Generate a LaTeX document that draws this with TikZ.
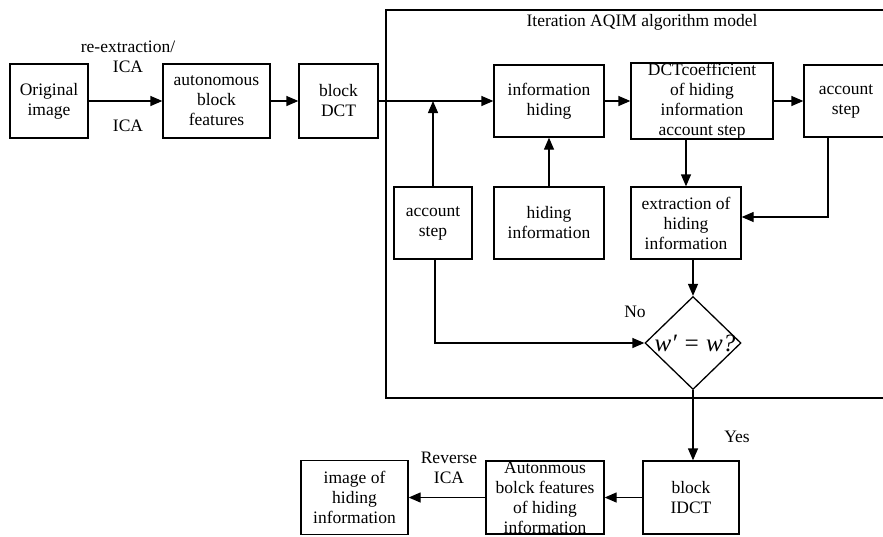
\documentclass[tikz,border=0pt]{standalone}
\usepackage{fontspec}
\setmainfont{Liberation Serif}
\usetikzlibrary{arrows.meta,shapes.geometric}
\begin{document}
\begin{tikzpicture}[x=1pt,y=-1pt,
  every node/.style={font=\fontsize{17.5}{20}\selectfont, align=center},
  box/.style={draw, line width=1.3pt, inner sep=0pt},
  arr/.style={line width=1.3pt, -{Triangle[length=12pt,width=10pt]}},
  ln/.style={line width=1.3pt},
  lbl/.style={inner sep=0pt}]
\clip (0,0) rectangle (883,536);
\useasboundingbox (0,0) rectangle (883,536);
% frame
\draw[ln] (890,10) -- (386,10) -- (386,398) -- (890,398);
\node[lbl] (title) at (642,22) {Iteration AQIM algorithm model};
% top row left
\node[box, minimum width=78pt, minimum height=74pt] (orig) at (49,101) {Original\\image};
\node[box, minimum width=107pt, minimum height=74pt] (auto) at (216.5,101) {autonomous\\block\\features};
\node[box, minimum width=79pt, minimum height=74pt] (bdct) at (338.5,101) {block\\DCT};
% inside frame
\node[box, minimum width=110pt, minimum height=72pt] (ih) at (549,101) {information\\hiding};
\node[box, minimum width=142pt, minimum height=72pt] (dctc) at (702,101) {DCTcoefficient\\of hiding\\information\\account step};
\node[box, minimum width=84pt, minimum height=72pt] (as2) at (846,101) {account\\step};
\node[box, minimum width=78pt, minimum height=72pt] (as1) at (433,223) {account\\step};
\node[box, minimum width=110pt, minimum height=72pt] (hi) at (549,223) {hiding\\information};
\node[box, minimum width=110pt, minimum height=72pt] (ext) at (686,223) {extraction of\\hiding\\information};
\node[draw, line width=1.3pt, diamond, minimum width=96pt, minimum height=93pt, inner sep=0pt] (dia) at (693,343) {};
\node[lbl, font=\fontsize{25}{27}\selectfont\itshape] (dt) at (695,343) {w′ = w?};
% bottom row
\node[box, minimum width=96pt, minimum height=73pt] (idct) at (691,497.5) {block\\IDCT};
\node[box, minimum width=118pt, minimum height=73pt] (auton) at (545,497.5) {Autonmous\\bolck features\\of hiding\\information};
\node[box, minimum width=107pt, minimum height=74pt] (img) at (354.5,497.5) {image of\\hiding\\information};
% labels
\node[lbl] (l1) at (128,57) {re-extraction/\\ICA};
\node[lbl] (l2) at (128,126) {ICA};
\node[lbl] (lno) at (635,312) {No};
\node[lbl] (lyes) at (737,437) {Yes};
\node[lbl] (lrev) at (449,468) {Reverse\\ICA};
% connectors
\draw[arr] (orig.east) -- (auto.west);
\draw[arr] (auto.east) -- (bdct.west);
\draw[arr] (bdct.east) -- (ih.west);
\draw[arr] (ih.east) -- (dctc.west);
\draw[arr] (dctc.east) -- (as2.west);
\draw[arr] (as1.north) -- (as1.north |- ih.west);
\draw[arr] (hi.north) -- (ih.south);
\draw[arr] (dctc.south -| ext.north) -- (ext.north);
\draw[arr] ([xshift=-18pt]as2.south) |- ([yshift=6pt]ext.east);
\draw[arr] (ext.south -| dia.north) -- (dia.north);
\draw[arr] ([xshift=2pt]as1.south) |- (dia.west);
\draw[arr] (dia.south) -- (dia.south |- idct.north);
\draw[arr] (idct.west) -- (auton.east);
\draw[arr] (auton.west) -- (img.east);
\end{tikzpicture}
\end{document}
